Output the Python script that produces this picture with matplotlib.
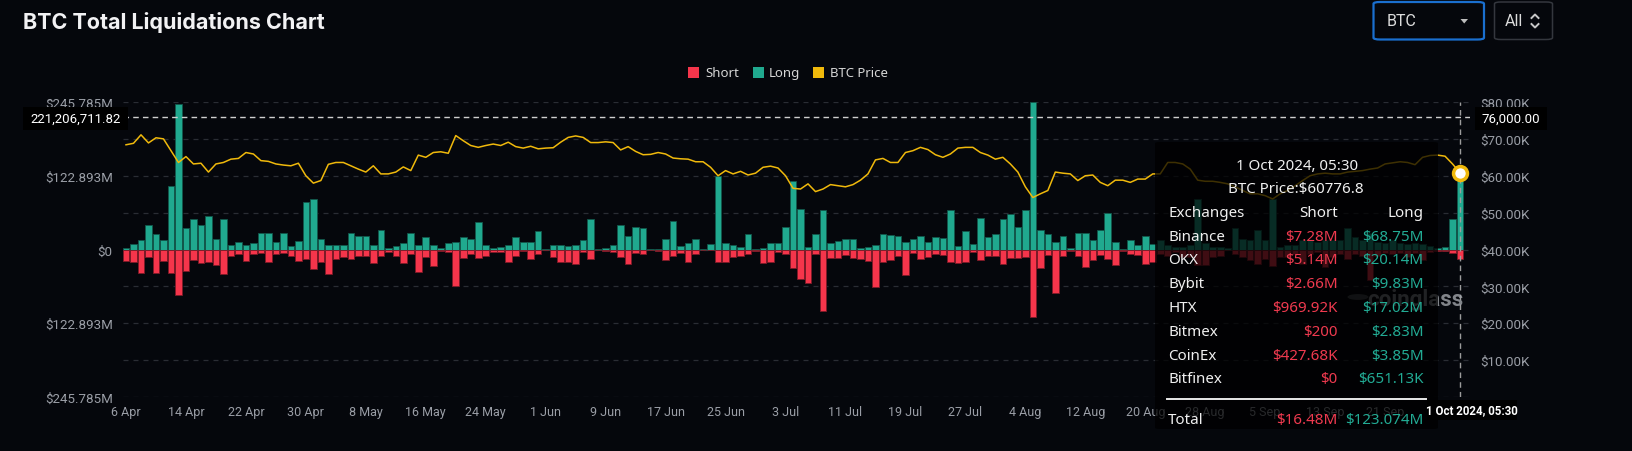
import matplotlib
matplotlib.use('Agg')
import matplotlib.pyplot as plt
from matplotlib.patches import Rectangle, FancyBboxPatch, Polygon, Circle
from matplotlib.lines import Line2D
import numpy as np
import pandas as pd

# ---------------- data ----------------
dates = pd.date_range('2024-04-06', '2024-10-01', freq='D')

long_liq = [3, 8.4, 16, 40, 25, 16, 106, 243, 35, 51,
            40, 55, 17, 51, 7, 12, 8, 10, 27, 27,
            13, 27, 6, 14, 79, 84, 18, 8, 7, 8,
            28, 23, 23, 7, 32, 2, 5, 11, 28, 7,
            20, 8, 2, 11, 12, 21, 17, 45, 7, 2,
            4.5, 7, 20, 12, 12, 31,
            1, 8, 8, 6, 7, 16, 51, 1, 2, 8,
            40, 23, 38, 36, 1, 0.5, 17, 48, 6, 10,
            17, 1, 9, 122, 10, 8, 4.5, 26, 1, 2,
            10, 11, 37, 114, 67, 4.5, 26, 66, 10, 14,
            17, 17, 2, 4.5, 8, 25, 24, 23, 12, 18,
            22, 12, 21, 19, 66, 5,
            30, 9, 52, 21, 25, 51, 59, 37, 65, 245.785,
            33, 26, 13, 22, 3, 28, 28, 16, 33, 60,
            12, 1, 15, 7, 22, 9,
            16, 7, 4.5, 4, 7, 84, 10, 4.5, 4.5, 3,
            35, 17, 16, 32, 16, 84, 4.5, 7, 7, 16,
            16, 13, 16, 16, 16, 35, 21, 16, 27, 12,
            10, 15, 10, 9, 10, 9, 5, 3, 4, 51, 123.074]

short_liq = [19, 21, 39, 12, 39, 19, 39, 76, 36, 18,
             23, 21, 26, 40, 11, 7, 19, 7, 6, 21,
             7, 6, 11, 19, 16, 33, 20, 40, 16, 12,
             16, 10, 10, 23, 11, 4.5, 10, 23, 8, 38,
             12, 28, 3, 4, 60, 14, 8, 14, 11, 4.5,
             4.5, 21, 10, 3, 16, 8,
             1, 13, 21, 20, 24, 4, 16, 1, 2, 4.5,
             13, 24, 6, 7, 0.5, 3, 17, 11, 5, 20,
             8, 1, 1, 20, 21, 13, 10, 8, 2, 22,
             20, 4.5, 8, 31, 49, 56, 7, 102, 14, 14,
             9, 14, 15, 19, 62, 21, 17, 11, 43, 6,
             16, 12, 8, 9, 20, 22,
             21, 4.5, 18, 10, 10, 24, 14, 14, 13, 113,
             31, 9, 73, 10, 2, 10, 29, 18, 9, 16,
             25, 2, 7, 9, 24, 21,
             8, 10, 4, 12, 12, 26, 26, 12, 10, 1,
             7, 12, 18, 24, 15, 28, 12, 12, 7, 24,
             7, 4, 29, 12, 7, 15, 7, 10, 50, 10,
             6, 8, 5, 12, 5, 18, 4, 2, 3, 5.5, 16.48]

btc_price_k = [68.4, 68.8, 71.1, 68.9, 70.3, 70.0, 66.8, 63.6, 65.2, 63.2,
               63.4, 61.0, 63.2, 63.6, 64.5, 64.7, 66.3, 65.9, 64.1, 63.9,
               63.2, 62.9, 62.7, 63.4, 60.0, 58.0, 58.7, 63.1, 63.6, 63.6,
               62.7, 61.8, 61.0, 62.7, 60.5, 60.5, 61.0, 62.4, 61.4, 65.6,
               65.0, 66.3, 66.5, 66.1, 70.9, 69.5, 68.2, 67.7, 68.2, 68.6,
               68.2, 69.1, 67.9, 67.5, 68.0, 67.3,
               67.5, 67.6, 69.1, 70.4, 70.8, 70.4, 69.0, 69.0, 69.2, 69.0,
               67.0, 67.9, 66.6, 65.7, 65.8, 66.3, 65.9, 64.8, 64.6, 64.5,
               63.8, 63.8, 62.3, 60.0, 61.4, 60.5, 61.2, 60.2, 60.7, 62.3,
               62.6, 62.1, 60.0, 56.6, 56.4, 57.8, 55.7, 56.4, 57.6, 57.3,
               57.0, 57.6, 58.8, 60.5, 64.3, 64.7, 63.6, 63.6, 66.3, 66.8,
               67.7, 67.1, 65.7, 65.0, 65.9, 67.5,
               67.7, 67.7, 66.3, 65.6, 64.5, 65.0, 63.2, 61.0, 57.0, 54.1,
               55.1, 56.0, 61.0, 60.7, 60.5, 58.7, 60.0, 60.2, 58.2, 57.3,
               58.8, 58.8, 58.2, 59.1, 59.1, 60.5,
               60.5, 63.6, 63.6, 63.2, 61.8, 58.8, 58.5, 58.5, 58.2, 57.8,
               57.0, 56.0, 55.1, 55.1, 54.6, 53.7, 55.1, 56.0, 57.3, 58.7,
               60.0, 60.5, 60.7, 60.5, 60.5, 61.0, 61.2, 61.4, 61.8, 62.1,
               63.2, 63.5, 63.8, 63.6, 63.0, 65.0, 65.5, 65.6, 65.3, 63.2, 60.7768]

left_tick_labels = ['$245.785M', '', '$122.893M', '', '$0', '', '$122.893M', '', '$245.785M']
right_tick_labels = ['', '$10.00K', '$20.00K', '$30.00K', '$40.00K', '$50.00K', '$60.00K',
                     '$70.00K', '$80.00K']

exchanges = ['Binance', 'OKX', 'Bybit', 'HTX', 'Bitmex', 'CoinEx', 'Bitfinex']
ex_short = ['$7.28M', '$5.14M', '$2.66M', '$969.92K', '$200', '$427.68K', '$0']
ex_long = ['$68.75M', '$20.14M', '$9.83M', '$17.02M', '$2.83M', '$3.85M', '$651.13K']
total_short = '$16.48M'
total_long = '$123.074M'

y_max = 245.785
cross_value = 221206711.82
cross_price = 76000.00

# ---------------- style ----------------
BG = '#05070c'
TEAL = '#20a98f'
TEAL_EDGE = '#12574b'
RED = '#f5354b'
RED_EDGE = '#7d1a27'
YEL = '#f0b90b'
GRID = '#2a2d34'
LBL = '#9a9ea6'
AXFONT = ['Roboto', 'DejaVu Sans']
TFONT = ['Noto Sans', 'DejaVu Sans']

W, H = 1632, 452
fig = plt.figure(figsize=(W / 100, H / 100), dpi=100, facecolor=BG)


def fx(x):
    return x / W


def fy(y):
    return 1 - y / H


L, R, T, B = 122.7, 1470, 103, 398
ax = fig.add_axes([fx(L), fy(B), (R - L) / W, (B - T) / H])
ax.set_facecolor(BG)
n = len(dates)
x = np.arange(n)
ax.bar(x, long_liq, width=0.88, color=TEAL, edgecolor=TEAL_EDGE, linewidth=0.6, zorder=3)
ax.bar(x, [-v for v in short_liq], width=0.88, color=RED, edgecolor=RED_EDGE, linewidth=0.6, zorder=3)
ax.set_xlim(-0.44, n - 1 + 1.33)
ax.set_ylim(-y_max, y_max)
yt = np.linspace(-y_max, y_max, 9)
ax.set_yticks(yt)
ax.set_yticklabels(left_tick_labels[::-1], fontfamily=AXFONT, fontsize=9.6, color=LBL)
ax.grid(axis='y', color=GRID, linestyle=(0, (4, 4)), linewidth=0.9, zorder=0)
ax.grid(axis='x', visible=False)
for s in ax.spines.values():
    s.set_visible(False)
ax.tick_params(axis='y', length=0, pad=7.2)
# every 8th day; the last one (29 Sep) is hidden under the crosshair date label
xt = list(range(0, n - 8, 8))
ax.set_xticks(xt)
ax.set_xticklabels([f'{dates[i].day} {dates[i].strftime("%b")}' for i in xt],
                   fontfamily=AXFONT, fontsize=9, color=LBL)
ax.tick_params(axis='x', length=0, pad=5.5)

ax.axhline(cross_value / 1e6, color='#cfcfcf', linestyle=(0, (4, 3)), linewidth=1, zorder=4)
ax.axvline(n - 1, color='#9c9c9c', linestyle=(0, (4, 3)), linewidth=1, zorder=6)

ax2 = ax.twinx()
ax2.set_ylim(0, 80)
ax2.plot(x, btc_price_k, color=YEL, linewidth=1.1, zorder=5)
ax2.plot([n - 1], [btc_price_k[-1]], marker='o', markersize=10, markerfacecolor='white',
         markeredgecolor=YEL, markeredgewidth=2.5, zorder=7)
ax2.set_yticks(np.arange(0, 81, 10))
ax2.set_yticklabels(right_tick_labels, fontfamily=AXFONT, fontsize=9.6, color=LBL)
ax2.tick_params(axis='y', length=0, pad=7.7)
for s in ax2.spines.values():
    s.set_visible(False)

# clip the top of axis labels like reference
fig.patches.append(Rectangle((0, fy(100.3)), 1, (100.3 - 86) / H, transform=fig.transFigure,
                             facecolor=BG, edgecolor='none', zorder=5))

# ---------------- title & controls ----------------
fig.text(fx(23), fy(22.5), 'BTC Total Liquidations Chart', fontsize=15.5, fontweight='bold',
         color='#f2f2f4', va='center', ha='left', fontfamily=['Inter', 'DejaVu Sans'])

fig.patches.append(FancyBboxPatch((fx(1373.5), fy(40.5)), (1484 - 1373.5) / W, 37.5 / H,
                                  boxstyle='round,pad=0,rounding_size=0.004',
                                  transform=fig.transFigure, facecolor=BG,
                                  edgecolor='#1a6fcf', linewidth=1.6, zorder=3))
fig.text(fx(1387), fy(22), 'BTC', fontsize=11.5, color='#dcdcdc', va='center', ha='left',
         fontfamily=AXFONT)
fig.patches.append(Polygon([(fx(1460.5), fy(20)), (fx(1468), fy(20)), (fx(1464.2), fy(24.5))],
                           closed=True, transform=fig.transFigure, facecolor='#bdbdbd',
                           edgecolor='none', zorder=4))
fig.patches.append(FancyBboxPatch((fx(1494.5), fy(40.5)), (1552.5 - 1494.5) / W, 37.5 / H,
                                  boxstyle='round,pad=0,rounding_size=0.004',
                                  transform=fig.transFigure, facecolor=BG,
                                  edgecolor='#34373e', linewidth=1.1, zorder=3))
fig.text(fx(1504.5), fy(22), 'All', fontsize=11.5, color='#dcdcdc', va='center', ha='left',
         fontfamily=AXFONT)
fig.add_artist(Line2D([fx(1531.5), fx(1535), fx(1538.5)], [fy(19), fy(15.5), fy(19)],
                      transform=fig.transFigure, color='#c8c8c8', linewidth=1.4, zorder=4))
fig.add_artist(Line2D([fx(1531.5), fx(1535), fx(1538.5)], [fy(25), fy(28.5), fy(25)],
                      transform=fig.transFigure, color='#c8c8c8', linewidth=1.4, zorder=4))

# ---------------- legend ----------------
for sx, tx_, col, lab in [(688, 705, RED, 'Short'), (752.7, 769, TEAL, 'Long'),
                          (812.7, 830, YEL, 'BTC Price')]:
    fig.patches.append(Rectangle((fx(sx), fy(79)), 11.3 / W, 11.3 / H, transform=fig.transFigure,
                                 facecolor=col, edgecolor='none'))
    fig.text(fx(tx_), fy(73.3), lab, fontsize=9.5, color='#d6d6d6', va='center', ha='left',
             fontfamily=TFONT)

# ---------------- crosshair labels ----------------
fig.patches.append(Rectangle((fx(23), fy(131)), 105 / W, 23 / H, transform=fig.transFigure,
                             facecolor='#000000', edgecolor='none', zorder=6))
fig.text(fx(75.5), fy(119.5), f'{cross_value:,.2f}', fontsize=9.5, color='white',
         va='center', ha='center', fontfamily=AXFONT, zorder=7)
fig.patches.append(Rectangle((fx(1475), fy(131)), 72 / W, 23 / H, transform=fig.transFigure,
                             facecolor='#000000', edgecolor='none', zorder=6))
fig.text(fx(1511), fy(119.5), f'{cross_price:,.2f}', fontsize=9.5, color='white',
         va='center', ha='center', fontfamily=AXFONT, zorder=7)

# watermark
fig.patches.append(Circle((fx(1358), fy(298)), 10.5 / W, transform=fig.transFigure,
                          facecolor='#6a6d73', edgecolor='none', alpha=0.6, zorder=4))
fig.text(fx(1463), fy(300), 'coinglass', fontsize=16, fontweight='bold', color='#a2a5ab',
         alpha=0.8, va='center', ha='right', fontfamily=AXFONT, zorder=4)

# ---------------- tooltip ----------------
fig.patches.append(FancyBboxPatch((fx(1155), fy(430)), (1438 - 1155) / W, (430 - 143) / H,
                                  boxstyle='round,pad=0,rounding_size=0.003',
                                  transform=fig.transFigure, facecolor='#000000',
                                  edgecolor='none', alpha=0.74, zorder=10))
TS = 10.9
fig.text(fx(1297), fy(166), '1 Oct 2024, 05:30', fontsize=TS, color='#f0f0f0', ha='center',
         va='center', fontfamily=TFONT, zorder=11)
fig.text(fx(1296), fy(190), f'BTC Price:${btc_price_k[-1] * 1000:.1f}', fontsize=TS,
         color='#f0f0f0', ha='center', va='center', fontfamily=TFONT, zorder=11)
row_y = [213.3 + 23.8 * k for k in range(8)]
c1, c2, c3 = 1168, 1337.5, 1423.5
fig.text(fx(c1), fy(row_y[0]), 'Exchanges', fontsize=TS, color='#f0f0f0', ha='left',
         va='center', fontfamily=TFONT, zorder=11)
fig.text(fx(c2), fy(row_y[0]), 'Short', fontsize=TS, color='#f0f0f0', ha='right',
         va='center', fontfamily=TFONT, zorder=11)
fig.text(fx(c3), fy(row_y[0]), 'Long', fontsize=TS, color='#f0f0f0', ha='right',
         va='center', fontfamily=TFONT, zorder=11)
for k, (nm, s, l) in enumerate(zip(exchanges, ex_short, ex_long)):
    yy = row_y[k + 1]
    fig.text(fx(c1), fy(yy), nm, fontsize=TS, color='#f0f0f0', ha='left', va='center',
             fontfamily=TFONT, zorder=11)
    fig.text(fx(c2), fy(yy), s, fontsize=TS, color='#ef3a4f', ha='right', va='center',
             fontfamily=TFONT, zorder=11)
    fig.text(fx(c3), fy(yy), l, fontsize=TS, color='#22ab94', ha='right', va='center',
             fontfamily=TFONT, zorder=11)
fig.add_artist(Line2D([fx(1167), fx(1426)], [fy(399.5), fy(399.5)], transform=fig.transFigure,
                      color='#e8e8e8', linewidth=1.4, zorder=11))
fig.text(fx(c1), fy(420.5), 'Total', fontsize=TS, color='#f0f0f0', ha='left', va='center',
         fontfamily=TFONT, zorder=11)
fig.text(fx(c2), fy(420.5), total_short, fontsize=TS, color='#ef3a4f', ha='right', va='center',
         fontfamily=TFONT, zorder=11)
fig.text(fx(c3), fy(420.5), total_long, fontsize=TS, color='#22ab94', ha='right', va='center',
         fontfamily=TFONT, zorder=11)

# bottom crosshair date label
fig.patches.append(Rectangle((fx(1427), fy(421)), 90 / W, 20 / H, transform=fig.transFigure,
                             facecolor='#000000', edgecolor='none', zorder=12))
fig.text(fx(1472), fy(411), '1 Oct 2024, 05:30', fontsize=8.3, color='white', fontweight='bold',
         ha='center', va='center', fontfamily=AXFONT, zorder=13)

fig.savefig('out.png', dpi=100, facecolor=BG)
